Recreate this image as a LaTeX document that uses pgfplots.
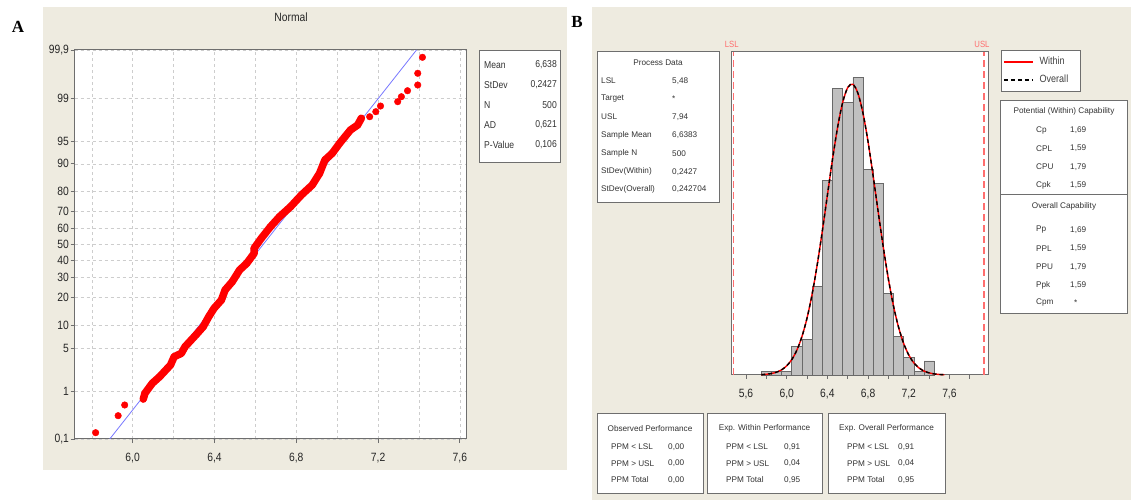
\documentclass[border=0pt]{standalone}
\usepackage{pgfplots}
\pgfplotsset{compat=1.18}
\usepackage{pgfplotstable}
\usepackage{fontspec}
\setmainfont{Liberation Sans}
\newfontfamily\narrow{Liberation Sans}[FakeStretch=0.86]
\newfontfamily\serifb{Liberation Serif}

\definecolor{panel}{RGB}{238,235,224}
\definecolor{frame}{RGB}{110,110,110}
\definecolor{gridc}{RGB}{205,205,205}
\definecolor{dotred}{RGB}{255,0,0}
\definecolor{fitblue}{RGB}{120,120,255}
\definecolor{specred}{RGB}{255,110,110}
\definecolor{barfill}{RGB}{192,192,192}
\definecolor{baredge}{RGB}{105,105,105}

\newcommand\ticksize{\narrow\fontsize{12}{13}\selectfont}
\newcommand\boxsize{\narrow\fontsize{10}{11}\selectfont}
\newcommand\smallbox{\fontsize{8.2}{9}\selectfont}

% probability plot: x, normal score of the plotting position
\pgfplotstableread{
x      z
5.819 -2.990
5.929 -2.720
5.961 -2.550
6.052 -2.455
6.060 -2.364
6.096 -2.205
6.132 -2.100
6.185 -1.915
6.203 -1.783
6.238 -1.729
6.256 -1.624
6.309 -1.438
6.345 -1.306
6.372 -1.147
6.398 -1.014
6.434 -0.882
6.452 -0.723
6.487 -0.591
6.523 -0.405
6.558 -0.299
6.594 -0.140
6.594 -0.060
6.629  0.098
6.674  0.283
6.718  0.441
6.772  0.600
6.825  0.786
6.878  0.945
6.914  1.131
6.940  1.342
6.976  1.449
7.012  1.608
7.038  1.712
7.065  1.819
7.100  1.898
7.118  2.005
7.159  2.030
7.189  2.110
7.212  2.200
7.296  2.269
7.314  2.348
7.344  2.443
7.394  2.534
7.394  2.720
7.417  2.974
}\probdata

\pgfplotstableread{
x      z
6.052 -2.455
6.060 -2.364
6.096 -2.205
6.132 -2.100
6.185 -1.915
6.203 -1.783
6.238 -1.729
6.256 -1.624
6.309 -1.438
6.345 -1.306
6.372 -1.147
6.398 -1.014
6.434 -0.882
6.452 -0.723
6.487 -0.591
6.523 -0.405
6.558 -0.299
6.594 -0.140
6.594 -0.060
6.629  0.098
6.674  0.283
6.718  0.441
6.772  0.600
6.825  0.786
6.878  0.945
6.914  1.131
6.940  1.342
6.976  1.449
7.012  1.608
7.038  1.712
7.065  1.819
7.100  1.898
7.118  2.005
}\probband

% histogram: bin centre, count
\pgfplotstableread{
x    n
5.8  1
5.9  1
6.0  1
6.1  8
6.2  10
6.3  25
6.4  55
6.5  81
6.6  77
6.7  84
6.8  58
6.9  54
7.0  23
7.1  11
7.2  5
7.3  1
7.4  4
}\histdata

% fitted normal curve, scaled to counts
\pgfplotstableread{
x     f
5.75  0.10
5.80  0.21
5.85  0.42
5.90  0.80
5.95  1.47
6.00  2.59
6.05  4.36
6.10  7.02
6.15  10.86
6.20  16.09
6.25  22.85
6.30  31.11
6.35  40.59
6.40  50.76
6.45  60.84
6.50  69.88
6.55  76.94
6.60  81.18
6.65  82.10
6.70  79.59
6.75  73.94
6.80  65.84
6.85  56.19
6.90  45.96
6.95  36.04
7.00  27.08
7.05  19.50
7.10  13.46
7.15  8.91
7.20  5.65
7.25  3.43
7.30  2.00
7.35  1.12
7.40  0.60
7.45  0.31
7.50  0.15
7.55  0.07
}\fitcurve

\begin{document}
\begin{tikzpicture}[x=1pt,y=1pt]
\fill[white] (0,0) rectangle (1131,500);
\fill[panel] (43,30) rectangle (567,493);
\fill[panel] (592,0) rectangle (1131,493);
\node[font=\serifb\bfseries\fontsize{17}{17}\selectfont] at (18,473) {A};
\node[font=\serifb\bfseries\fontsize{17}{17}\selectfont] at (577,478) {B};
\node[font=\ticksize, text=black!85] at (291,483) {Normal};

% ---------- panel A: normal probability plot
\begin{axis}[
  at={(74.5pt,61pt)}, anchor=south west, scale only axis,
  width=391.5pt, height=389pt,
  xmin=5.7156, xmax=7.630, ymin=-3.0902, ymax=3.0902,
  axis background/.style={fill=white},
  axis line style={frame, line width=1pt},
  tick align=outside, major tick length=4pt, minor tick length=0pt,
  tick style={frame, line width=0.8pt},
  xtick pos=left, ytick pos=left,
  xtick={6.0,6.4,6.8,7.2,7.6},
  xticklabels={{6,0},{6,4},{6,8},{7,2},{7,6}},
  minor xtick={5.8,6.2,6.6,7.0,7.4},
  ytick={-3.0902,-2.3263,-1.6449,-1.2816,-0.8416,-0.5244,-0.2533,0,0.2533,0.5244,0.8416,1.2816,1.6449,2.3263,3.0902},
  yticklabels={{0,1},1,5,10,20,30,40,50,60,70,80,90,95,99,{99,9}},
  grid=both,
  major grid style={gridc, dash pattern=on 3pt off 3pt},
  minor grid style={gridc, dash pattern=on 3pt off 3pt},
  ticklabel style={font=\ticksize, text=black!85},
  xticklabel style={yshift=-7pt},
  yticklabel style={xshift=2pt},
]
\addplot[fitblue, line width=0.8pt] coordinates {(5.888,-3.0902) (7.388,3.0902)};
\addplot[dotred, line width=7.5pt, line cap=round, line join=round] table[x=x,y=z] {\probband};
\addplot[only marks, mark=*, mark size=3.3pt, dotred] table[x=x,y=z] {\probdata};
\end{axis}

% statistics box A
\draw[frame, line width=0.9pt, fill=white] (479,450) rectangle (560,338);
\begin{scope}[every node/.style={font=\boxsize, text=black!80, inner sep=0pt}]
\node[anchor=west] at (484,435) {Mean};    \node[anchor=east] at (557,435) {6,638};
\node[anchor=west] at (484,415) {StDev};   \node[anchor=east] at (557,415) {0,2427};
\node[anchor=west] at (484,395) {N};       \node[anchor=east] at (557,395) {500};
\node[anchor=west] at (484,375) {AD};      \node[anchor=east] at (557,375) {0,621};
\node[anchor=west] at (484,355) {P-Value}; \node[anchor=east] at (557,355) {0,106};
\end{scope}

% ---------- panel B: capability histogram
\draw[frame, line width=0.9pt, fill=white] (597,449) rectangle (719,298);
\begin{scope}[every node/.style={font=\smallbox, text=black!80, inner sep=0pt}]
\node at (658,437.3) {Process Data};
\node[anchor=west] at (601,419)   {LSL};            \node[anchor=west] at (672,419)   {5,48};
\node[anchor=west] at (601,401)   {Target};         \node[anchor=west] at (672,401)   {*};
\node[anchor=west] at (601,383.3) {USL};            \node[anchor=west] at (672,383.3) {7,94};
\node[anchor=west] at (601,365)   {Sample Mean};    \node[anchor=west] at (672,365)   {6,6383};
\node[anchor=west] at (601,346.7) {Sample N};       \node[anchor=west] at (672,346.7) {500};
\node[anchor=west] at (601,328.3) {StDev(Within)};  \node[anchor=west] at (672,328.3) {0,2427};
\node[anchor=west] at (601,310.7) {StDev(Overall)}; \node[anchor=west] at (672,310.7) {0,242704};
\end{scope}

\begin{axis}[
  at={(731.7pt,125pt)}, anchor=south west, scale only axis,
  width=256.6pt, height=323.3pt,
  xmin=5.4592, xmax=7.9823, ymin=0, ymax=91.3,
  clip=false,
  axis background/.style={fill=white},
  axis line style={frame, line width=1pt},
  tick align=outside, major tick length=4pt, minor tick length=4pt,
  tick style={frame, line width=0.8pt},
  xtick pos=left, ytick=\empty,
  xtick={5.6,6.0,6.4,6.8,7.2,7.6},
  xticklabels={{5,6},{6,0},{6,4},{6,8},{7,2},{7,6}},
  minor xtick={5.8,6.2,6.6,7.0,7.4,7.8},
  ticklabel style={font=\ticksize, text=black!85},
  xticklabel style={yshift=-7pt},
  legend style={at={(1.0483,1.006)}, anchor=north west, draw=frame, line width=0.9pt,
    fill=white, font=\narrow\fontsize{10.5}{11}\selectfont, text=black!75,
    inner xsep=2pt, inner ysep=6pt, row sep=7pt,
    nodes={text width=38pt, inner sep=1pt},
    /tikz/every odd column/.append style={column sep=5pt}},
  legend cell align=left,
  legend image code/.code={\draw[#1, line width=1.5pt] (0pt,0pt) -- (29pt,0pt);},
]
\addplot[ybar, bar width=0.1, fill=barfill, draw=baredge, line width=0.6pt, forget plot]
  table[x=x,y=n] {\histdata};
\addplot[specred, line width=1.2pt, dash pattern=on 7pt off 4pt, forget plot]
  coordinates {(5.48,0) (5.48,91.3)};
\addplot[specred, line width=1.2pt, dash pattern=on 7pt off 4pt, forget plot]
  coordinates {(7.94,0) (7.94,91.3)};
\addplot[red, line width=1.4pt, smooth] table[x=x,y=f] {\fitcurve};
\addlegendentry{Within}
\addplot[black, line width=1.4pt, dash pattern=on 4pt off 3pt, smooth] table[x=x,y=f] {\fitcurve};
\addlegendentry{Overall}
\node[anchor=south, text=specred, font=\narrow\fontsize{9}{10}\selectfont, inner sep=1pt]
  at (axis cs:5.46,92) {LSL};
\node[anchor=south, text=specred, font=\narrow\fontsize{9}{10}\selectfont, inner sep=1pt]
  at (axis cs:7.92,92) {USL};
\end{axis}

% capability boxes
\draw[frame, line width=0.9pt, fill=white] (1000.7,400) rectangle (1127,306);
\draw[frame, line width=0.9pt, fill=white] (1000.7,306) rectangle (1127,187);
\begin{scope}[every node/.style={font=\smallbox, text=black!80, inner sep=0pt}]
\node at (1064,388.3) {Potential (Within) Capability};
\node[anchor=west] at (1036,370)   {Cp};  \node[anchor=west] at (1070,370)   {1,69};
\node[anchor=west] at (1036,351.7) {CPL}; \node[anchor=west] at (1070,351.7) {1,59};
\node[anchor=west] at (1036,333.3) {CPU}; \node[anchor=west] at (1070,333.3) {1,79};
\node[anchor=west] at (1036,315)   {Cpk}; \node[anchor=west] at (1070,315)   {1,59};
\node at (1064,293.3) {Overall Capability};
\node[anchor=west] at (1036,270)   {Pp};  \node[anchor=west] at (1070,270)   {1,69};
\node[anchor=west] at (1036,251.7) {PPL}; \node[anchor=west] at (1070,251.7) {1,59};
\node[anchor=west] at (1036,233.3) {PPU}; \node[anchor=west] at (1070,233.3) {1,79};
\node[anchor=west] at (1036,215)   {Ppk}; \node[anchor=west] at (1070,215)   {1,59};
\node[anchor=west] at (1036,197.3) {Cpm}; \node[anchor=west] at (1074,197.3) {*};
\end{scope}

% performance boxes
\draw[frame, line width=0.9pt, fill=white] (597,87) rectangle (703,7);
\draw[frame, line width=0.9pt, fill=white] (707,87) rectangle (822,7);
\draw[frame, line width=0.9pt, fill=white] (828,87) rectangle (945,7);
\begin{scope}[every node/.style={font=\smallbox, text=black!80, inner sep=0pt}]
\node at (650,71.7) {Observed Performance};
\node[anchor=west] at (611,53.3) {PPM < LSL}; \node[anchor=west] at (668,53.3) {0,00};
\node[anchor=west] at (611,36.7) {PPM > USL}; \node[anchor=west] at (668,36.7) {0,00};
\node[anchor=west] at (611,20)   {PPM Total}; \node[anchor=west] at (668,20)   {0,00};
\node at (764.5,71.7) {Exp. Within Performance};
\node[anchor=west] at (726,53.3) {PPM < LSL}; \node[anchor=west] at (784,53.3) {0,91};
\node[anchor=west] at (726,36.7) {PPM > USL}; \node[anchor=west] at (784,36.7) {0,04};
\node[anchor=west] at (726,20)   {PPM Total}; \node[anchor=west] at (784,20)   {0,95};
\node at (886.5,71.7) {Exp. Overall Performance};
\node[anchor=west] at (847,53.3) {PPM < LSL}; \node[anchor=west] at (898,53.3) {0,91};
\node[anchor=west] at (847,36.7) {PPM > USL}; \node[anchor=west] at (898,36.7) {0,04};
\node[anchor=west] at (847,20)   {PPM Total}; \node[anchor=west] at (898,20)   {0,95};
\end{scope}
\end{tikzpicture}
\end{document}
